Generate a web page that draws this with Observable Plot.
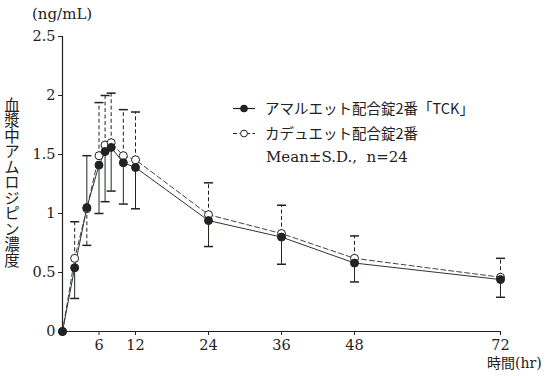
<!DOCTYPE html>
<html><head><meta charset="utf-8">
<script src="https://cdn.jsdelivr.net/npm/d3@7"></script>
<script src="https://cdn.jsdelivr.net/npm/@observablehq/plot@0.6"></script>
<style>
body{margin:0;background:#fff;}
#wrap{position:relative;width:551px;height:376px;overflow:hidden;}
.t{position:absolute;color:#222;white-space:pre;}
.serif{font-family:"DejaVu Serif","Liberation Serif",serif;}
.jp{font-family:"Noto Sans CJK JP",sans-serif;}
</style></head>
<body><div id="wrap"></div>
<script>
const times = [0, 2, 4, 6, 7, 8, 10, 12, 24, 36, 48, 72];
const tckMean = [0, 0.54, 1.05, 1.41, 1.525, 1.56, 1.43, 1.39, 0.94, 0.80, 0.58, 0.44];
const tckSD   = [0, 0.26, 0.44, 0.41, 0.425, 0.37, 0.35, 0.35, 0.22, 0.23, 0.16, 0.15];
const tckDir  = [0, -1, 1, -1, -1, -1, -1, -1, -1, -1, -1, -1];
const cadMean = [0, 0.62, 1.04, 1.49, 1.58, 1.60, 1.49, 1.455, 0.99, 0.83, 0.62, 0.46];
const cadSD   = [0, 0.31, 0.31, 0.45, 0.42, 0.42, 0.39, 0.405, 0.27, 0.24, 0.19, 0.16];
const cadDir  = [0, 1, -1, 1, 1, 1, 1, 1, 1, 1, 1, 1];
const xTicks = [6, 12, 24, 36, 48, 72];
const yTicks = [0, 0.5, 1, 1.5, 2, 2.5];
const seriesNames = ["アマルエット配合錠2番「TCK」", "カデュエット配合錠2番"];
const noteText = "Mean±S.D.,  n=24";

const tck = times.map((t, i) => ({t, m: tckMean[i], e: tckMean[i] + tckDir[i] * tckSD[i]}));
const cad = times.map((t, i) => ({t, m: cadMean[i], e: cadMean[i] + cadDir[i] * cadSD[i]}));
const tckBars = tck.filter(d => d.t > 0);
const cadBars = cad.filter(d => d.t > 0);

const cap = {draw(ctx, size) { ctx.moveTo(-4.5, 0); ctx.lineTo(4.5, 0); }};
const ink = "#222";

const chart = Plot.plot({
  width: 551, height: 376,
  marginLeft: 62, marginRight: 51, marginTop: 36, marginBottom: 45,
  style: {fontSize: "14.5px", fontFamily: "DejaVu Serif, Liberation Serif, serif", color: ink, background: "#fff"},
  x: {domain: [0, 72]},
  y: {domain: [0, 2.5]},
  marks: [
    Plot.axisY({ticks: yTicks, tickSize: 4, tickPadding: 3, tickFormat: d => String(d), label: null, stroke: ink}),
    Plot.axisX({ticks: xTicks, tickSize: 4, tickPadding: 4, tickFormat: d => String(d), label: null, stroke: ink}),
    Plot.ruleX([0], {stroke: ink, strokeWidth: 1.2}),
    Plot.ruleY([0], {stroke: ink, strokeWidth: 1.2}),
    // Caduet error bars (dashed)
    Plot.ruleX(cadBars, {x: "t", y1: "m", y2: "e", stroke: ink, strokeDasharray: "4,2.5"}),
    Plot.dot(cadBars, {x: "t", y: "e", symbol: cap, stroke: ink, fill: "none", r: 3}),
    // TCK error bars (solid)
    Plot.ruleX(tckBars, {x: "t", y1: "m", y2: "e", stroke: "#1e2a1e"}),
    Plot.dot(tckBars, {x: "t", y: "e", symbol: cap, stroke: ink, fill: "none", r: 3}),
    // lines
    Plot.line(cad, {x: "t", y: "m", stroke: "#444", strokeDasharray: "5,3", strokeWidth: 1}),
    Plot.line(tck, {x: "t", y: "m", stroke: "#333", strokeWidth: 1}),
    // markers
    Plot.dot(cad, {x: "t", y: "m", r: 4, fill: "#fff", stroke: ink, strokeWidth: 1}),
    Plot.dot(tck, {x: "t", y: "m", r: 4, fill: "#222", stroke: "#222", strokeWidth: 1})
  ]
});
const wrap = document.getElementById("wrap");
wrap.appendChild(chart);
chart.style.position = "absolute"; chart.style.left = "0"; chart.style.top = "0";

function addText(html, cls, css) {
  const d = document.createElement("div");
  d.className = "t " + cls;
  d.innerHTML = html;
  Object.assign(d.style, css);
  wrap.appendChild(d);
  return d;
}
addText("(ng/mL)", "serif", {left: "32px", top: "5px", fontSize: "15px", lineHeight: "18px"});
addText("血漿中アムロジピン濃度", "jp", {left: "4px", top: "97px", fontSize: "15.5px", lineHeight: "16px", writingMode: "vertical-rl", textOrientation: "upright"});
addText('<span class="jp">時間</span><span class="serif">(hr)</span>', "", {left: "487px", top: "355px", fontSize: "14px", lineHeight: "15px"});

// legend
const ns = "http://www.w3.org/2000/svg";
const leg = document.createElementNS(ns, "svg");
leg.setAttribute("width", "30"); leg.setAttribute("height", "40");
leg.style.position = "absolute"; leg.style.left = "230px"; leg.style.top = "98px";
leg.innerHTML =
  '<line x1="3" x2="25" y1="10.5" y2="10.5" stroke="#222" stroke-width="1.2"/>' +
  '<circle cx="14" cy="10.5" r="3.8" fill="#222"/>' +
  '<line x1="3" x2="25" y1="35.5" y2="35.5" stroke="#222" stroke-width="1.2" stroke-dasharray="4,2.5"/>' +
  '<circle cx="14" cy="35.5" r="3.4" fill="#fff" stroke="#222" stroke-width="1"/>';
wrap.appendChild(leg);
addText(seriesNames[0], "jp", {left: "265px", top: "98px", fontSize: "14.5px", lineHeight: "20px"});
addText(seriesNames[1], "jp", {left: "265px", top: "123px", fontSize: "14.5px", lineHeight: "20px"});
addText(noteText, "serif", {left: "266px", top: "148px", fontSize: "15px", lineHeight: "19px"});
</script></body></html>
